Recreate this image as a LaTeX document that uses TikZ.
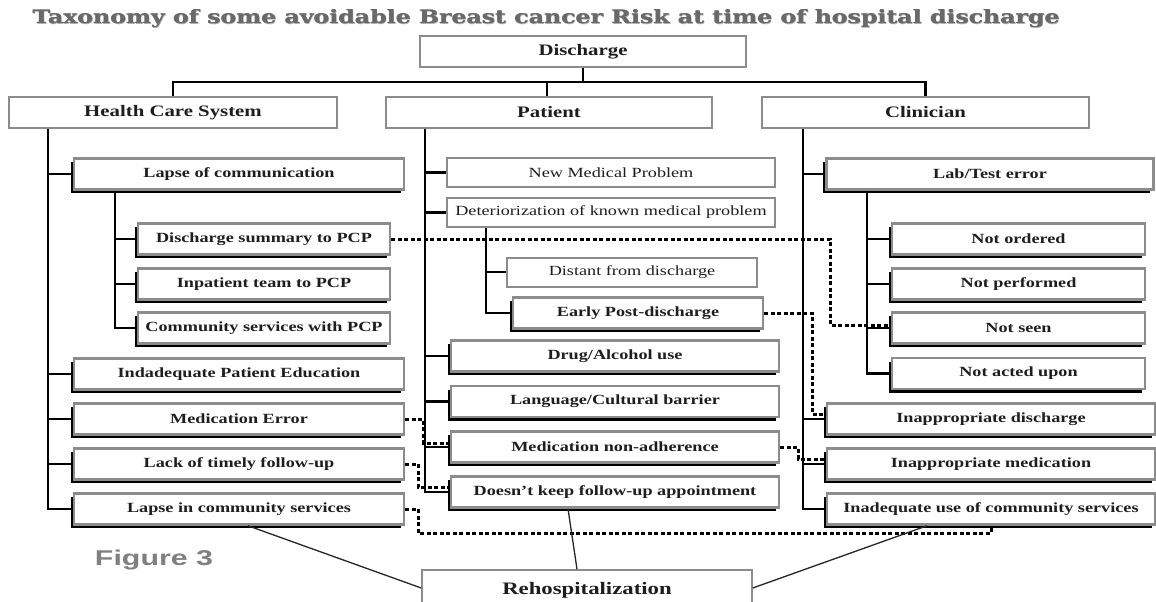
\documentclass[tikz,border=0pt]{standalone}
\usepackage{graphicx}
\usepackage{fontspec}
\setmainfont{Liberation Serif}
\newfontfamily\titlefont{DejaVu Serif}
\newfontfamily\figfont{Liberation Sans}
\usetikzlibrary{shadows,calc}
\definecolor{bgray}{RGB}{140,140,140}
\definecolor{tgray}{RGB}{105,105,105}
\definecolor{txt}{RGB}{30,30,30}
\newcommand{\sx}[1]{\scalebox{1.3}[1]{#1}}
\newcommand{\ttltext}{\resizebox{1027pt}{14pt}{\titlefont\bfseries Taxonomy of some avoidable Breast cancer Risk at time of hospital discharge}}
\begin{document}
\begin{tikzpicture}[x=1pt,y=-1pt,
  base/.style={rectangle, draw=bgray, fill=white, inner sep=0pt, anchor=center, text=txt,
    font=\fontsize{14}{16}\selectfont\bfseries},
  topbox/.style={base, line width=2.5pt, minimum height=31pt, font=\fontsize{16}{18}\selectfont\bfseries},
  sbox/.style={base, line width=2.5pt, minimum height=31pt,
    general shadow={fill=black, shadow xshift=-3.5pt, shadow yshift=-3.5pt}},
  pbox/.style={base, line width=2pt, minimum height=29pt, font=\fontsize{14}{16}\selectfont},
  conn/.style={line width=2.2pt, black},
  dots/.style={line width=3pt, dash pattern=on 4pt off 2.5pt, black},
  rl/.style={line width=1.3pt, black!85},
  ttl/.style={text=tgray, inner sep=0pt},
]
\useasboundingbox (0,0) rectangle (1156,602);
\fill[white] (0,0) rectangle (1156,602);

% title (slightly thickened) and caption
\node[ttl, text=black!30] at (546.9,19.9) {\ttltext};
\node[ttl] at (546.5,19) {\ttltext};
\node[ttl] (title) at (546,19) {\ttltext};
\node (fig) at (154,560) {\resizebox{118pt}{15.5pt}{\figfont\bfseries\color{tgray!85}Figure 3}};

% top level
\node[topbox, minimum width=326pt] (dis) at (583,51.5) {\sx{Discharge}};
\node[topbox, minimum width=328pt] (hcs) at (173,112.5) {\sx{Health Care System}};
\node[topbox, minimum width=326pt] (pat) at (549,112.5) {\sx{Patient}};
\node[topbox, minimum width=327pt] (cli) at (925.5,112.5) {\sx{Clinician}};

% health care system column
\node[sbox, minimum width=330pt] (lc)  at (239,174) {\sx{Lapse of communication}};
\node[sbox, minimum width=252pt] (dsp) at (264,239) {\sx{Discharge summary to PCP}};
\node[sbox, minimum width=252pt] (itp) at (264,284) {\sx{Inpatient team to PCP}};
\node[sbox, minimum width=252pt] (csp) at (264,328) {\sx{Community services with PCP}};
\node[sbox, minimum width=330pt] (ipe) at (239,374) {\sx{Indadequate Patient Education}};
\node[sbox, minimum width=330pt] (me)  at (239,419) {\sx{Medication Error}};
\node[sbox, minimum width=330pt] (ltf) at (239,464) {\sx{Lack of timely follow-up}};
\node[sbox, minimum width=330pt] (lcs) at (239,509) {\sx{Lapse in community services}};

% patient column
\node[pbox, minimum width=328pt] (nmp) at (611,172.5) {\sx{New Medical Problem}};
\node[pbox, minimum width=328pt] (dkm) at (611,212.5) {\sx{Deteriorization of known medical problem}};
\node[pbox, minimum width=250pt] (dfd) at (632,272) {\sx{Distant from discharge}};
\node[sbox, minimum width=250pt] (epd) at (638,313) {\sx{Early Post-discharge}};
\node[sbox, minimum width=328pt] (dau) at (615,356) {\sx{Drug/Alcohol use}};
\node[sbox, minimum width=328pt] (lcb) at (615,401.5) {\sx{Language/Cultural barrier}};
\node[sbox, minimum width=328pt] (mna) at (615,447) {\sx{Medication non-adherence}};
\node[sbox, minimum width=328pt] (dkf) at (615,492) {\sx{Doesn't keep follow-up appointment}};

% clinician column
\node[sbox, minimum width=327pt] (lte) at (990,174) {\sx{Lab/Test error}};
\node[sbox, minimum width=253pt] (nor) at (1018.5,239) {\sx{Not ordered}};
\node[sbox, minimum width=253pt] (npf) at (1018.5,284) {\sx{Not performed}};
\node[sbox, minimum width=253pt] (nse) at (1018.5,328) {\sx{Not seen}};
\node[sbox, minimum width=253pt] (nau) at (1018.5,373.5) {\sx{Not acted upon}};
\node[sbox, minimum width=328pt] (ida) at (991,419) {\sx{Inappropriate discharge}};
\node[sbox, minimum width=328pt] (ime) at (991,464) {\sx{Inappropriate medication}};
\node[sbox, minimum width=328pt] (iuc) at (991,509) {\sx{Inadequate use of community services}};

% rehospitalization
\node[base, line width=1.5pt, minimum width=330pt, minimum height=40pt,
  font=\fontsize{17.5}{19}\selectfont\bfseries] (reh) at (587,590) {\sx{Rehospitalization}};

% tree connectors
\coordinate (hub) at (583,82);
\draw[conn] (dis.south) -- (hub);
\draw[conn] (hub) -| (hcs.north);
\draw[conn] (hub) -| (cli.north);
\draw[conn] (hub) -| ([xshift=-2pt]pat.north);

\coordinate (hcsS) at ([xshift=-125pt]hcs.south);
\foreach \c in {lc,ipe,me,ltf,lcs} \draw[conn] (hcsS) |- (\c.west);
\coordinate (lcS) at ([xshift=-124pt]lc.south);
\foreach \c in {dsp,itp,csp} \draw[conn] (lcS) |- (\c.west);

\coordinate (patS) at ([xshift=-124pt]pat.south);
\foreach \c in {nmp,dkm,dau,lcb,mna,dkf} \draw[conn] (patS) |- (\c.west);
\coordinate (dkmS) at ([xshift=-125pt]dkm.south);
\foreach \c in {dfd,epd} \draw[conn] (dkmS) |- (\c.west);

\coordinate (cliS) at ([xshift=-122.5pt]cli.south);
\foreach \c in {lte,ida,ime,iuc} \draw[conn] (cliS) |- (\c.west);
\coordinate (lteS) at ([xshift=-123pt]lte.south);
\foreach \c in {nor,npf,nse,nau} \draw[conn] (lteS) |- (\c.west);

% dotted cross links
\draw[dots] (dsp.east) -- (830,239) |- ([yshift=3pt]nse.west);
\draw[dots] (epd.east) -- (812,313) |- ([yshift=5pt]ida.west);
\draw[dots] (me.east) -- (423,419) |- ([yshift=4pt]mna.west);
\draw[dots] (ltf.east) -- (418,464) |- ([yshift=5pt]dkf.west);
\draw[dots] (lcs.east) -- (418,509) |- (991,533) -- (iuc.south);
\draw[dots] (mna.east) -- (798,447) |- ([yshift=5pt]ime.west);

% links to rehospitalization
\draw[rl] ([xshift=9pt]lcs.south) -- ([yshift=2pt]reh.west);
\draw[rl] ([xshift=-47pt]dkf.south) -- ([xshift=-10pt]reh.north);
\draw[rl] ([xshift=-64pt]iuc.south) -- ([yshift=2pt]reh.east);
\end{tikzpicture}
\end{document}
